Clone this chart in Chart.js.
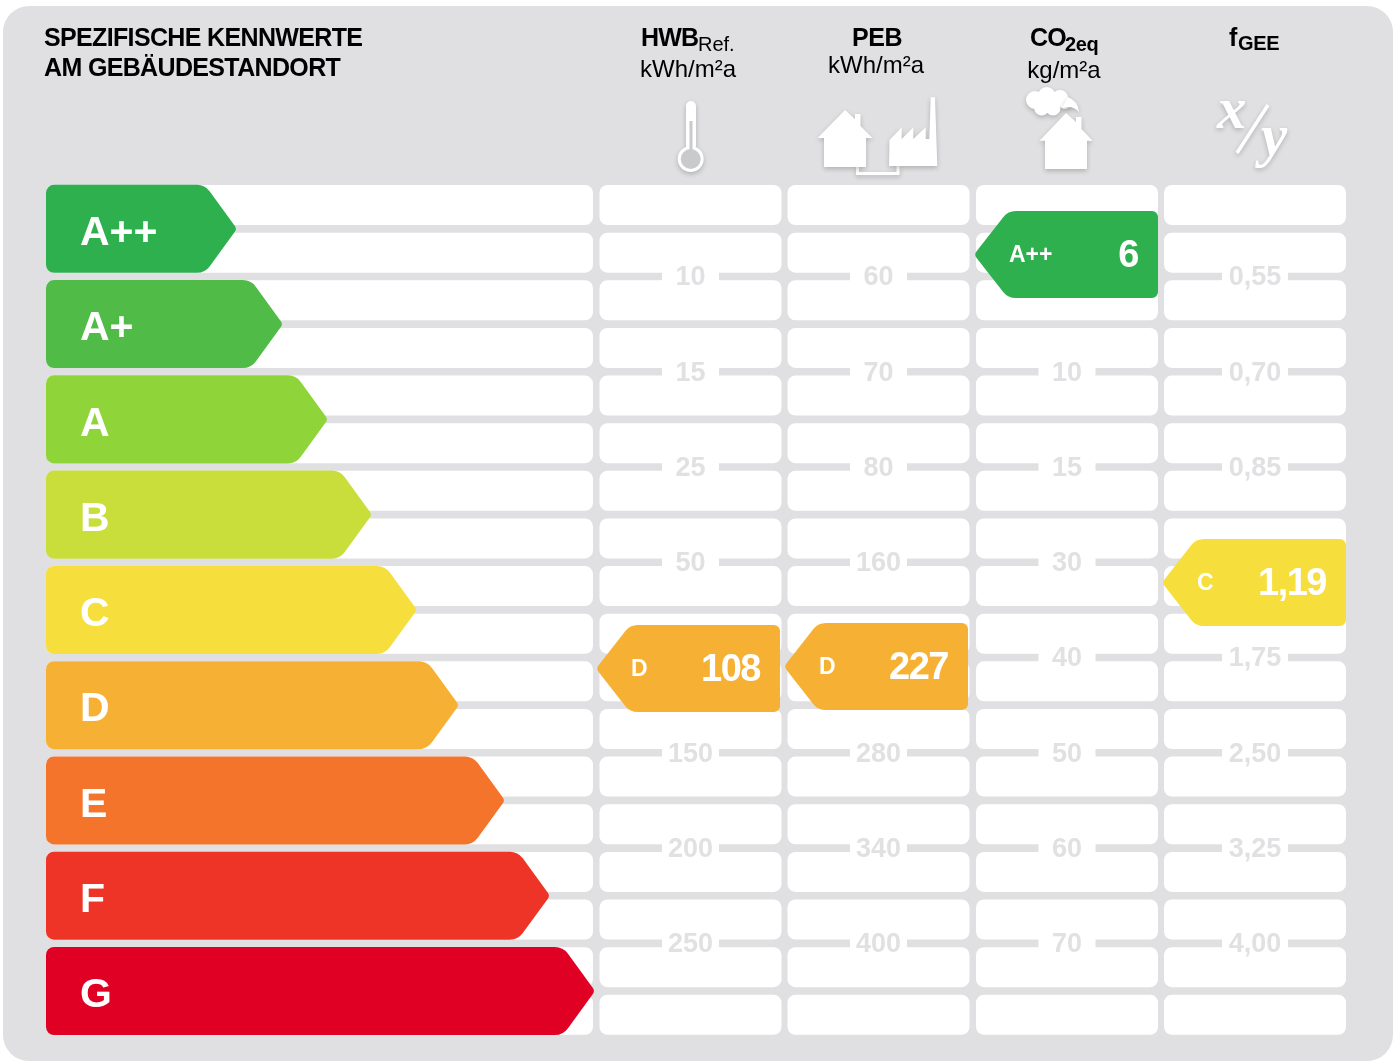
<!DOCTYPE html>
<html>
<head>
<meta charset="utf-8">
<title>Spezifische Kennwerte</title>
<script src="https://cdn.jsdelivr.net/npm/chart.js@4"></script>
<style>
  html, body { margin: 0; padding: 0; background: #fff; }
  canvas { display: block; }
</style>
</head>
<body>
<canvas id="mycanvas" width="1393" height="1061"></canvas>
<script>
// efficiency classes and how long each arrow is on the x scale
var classes = ["A++", "A+", "A", "B", "C", "D", "E", "F", "G"];
var classLengths = [189, 235, 280, 324, 369, 411, 457, 502, 547];
var classColors = ["#2eb04f", "#50bc47", "#8fd53a", "#c9de3a", "#f6de3c", "#f6b134", "#f5742b", "#ee3427", "#e00024"];

// tick labels on the class borders, null where the marker hides the tick
var hwbTicks = ["10", "15", "25", "50", null, "150", "200", "250"];
var pebTicks = ["60", "70", "80", "160", null, "280", "340", "400"];
var co2Ticks = [null, "10", "15", "30", "40", "50", "60", "70"];
var fgeeTicks = ["0,55", "0,70", "0,85", null, "1,75", "2,50", "3,25", "4,00"];

// the value markers: text, class and where it sits on the class band (0 = top of A++, 9 = bottom of G)
var markerValues = ["108", "227", "6", "1,19"];
var markerClasses = ["D", "D", "A++", "C"];
var markerBands = [5.116, 5.095, 0.77, 4.213];

var PANEL = "#e0e0e2";
var FONT = '"Liberation Sans", Arial, sans-serif';

// column layout in x scale units
var colStart = [553.5, 741.5, 930, 1118];
var colWidth = 182;
var tickGap = [57, 57, 57, 66];
var rowLabels = [];
for (var r = 0; r < 18; r++) rowLabels.push("r" + r);

function cellData(from, to) {
    return rowLabels.map(function () { return [from, to]; });
}

function cellSet(from, to) {
    return {
        type: "bar", indexAxis: "y", order: 5, xAxisID: "x", yAxisID: "yRows",
        data: cellData(from, to),
        backgroundColor: "#ffffff", borderRadius: 8, borderSkipped: false, inflateAmount: 0,
        barPercentage: 0.84, categoryPercentage: 1, grouped: false
    };
}

function tickSet(col, labels) {
    var cx = colStart[col] + colWidth / 2;
    return {
        type: "scatter", order: 4, xAxisID: "x", yAxisID: "yBand", pointRadius: 0,
        data: labels.map(function (t, i) { return { x: cx, y: i + 1 }; }),
        tickLabels: labels, gap: tickGap[col]
    };
}

var datasets = [cellSet(0, 547)];
colStart.forEach(function (s) { datasets.push(cellSet(s, s + colWidth)); });
datasets.push(tickSet(0, hwbTicks), tickSet(1, pebTicks), tickSet(2, co2Ticks), tickSet(3, fgeeTicks));
datasets.push({
    type: "bar", indexAxis: "y", order: 3, xAxisID: "x", yAxisID: "yClass", isArrows: true,
    data: classLengths, backgroundColor: classColors,
    barPercentage: 0.924, categoryPercentage: 1, grouped: false
});
datasets.push({
    type: "scatter", order: 2, xAxisID: "x", yAxisID: "yBand", pointRadius: 0, isMarkers: true,
    data: markerBands.map(function (b, i) { return { x: colStart[i] + colWidth / 2, y: b }; })
});

function text(ctx, str, x, y, font, color, align, spacing) {
    ctx.font = font;
    ctx.fillStyle = color;
    ctx.textAlign = align || "left";
    ctx.letterSpacing = (spacing || 0) + "px";
    ctx.fillText(str, x, y);
    ctx.letterSpacing = "0px";
}

function poly(ctx, pts) {
    // pts: [x, y, radius], closed outline with rounded corners
    var n = pts.length;
    var last = pts[n - 1], first = pts[0];
    ctx.beginPath();
    ctx.moveTo((last[0] + first[0]) / 2, (last[1] + first[1]) / 2);
    for (var i = 0; i < n; i++) {
        var p = pts[i], q = pts[(i + 1) % n];
        ctx.arcTo(p[0], p[1], q[0], q[1], p[2]);
    }
    ctx.closePath();
}

function drawArrows(chart, meta) {
    var ctx = chart.ctx;
    meta.data.forEach(function (bar, i) {
        var b = bar.getProps(["x", "y", "base", "height"], true);
        var top = b.y - b.height / 2, bottom = b.y + b.height / 2;
        ctx.fillStyle = classColors[i];
        poly(ctx, [
            [b.base, top, 8], [b.x - 30, top, 16], [b.x + 2, b.y, 5],
            [b.x - 30, bottom, 16], [b.base, bottom, 8]
        ]);
        ctx.fill();
    });
}

function drawMarkers(chart, meta) {
    var ctx = chart.ctx;
    var shift = [-1.5, -1.5, 0, 0];
    meta.data.forEach(function (pt, i) {
        var right = pt.x + colWidth / 2 + shift[i], left = right - colWidth;
        var top = pt.y - 43.5, bottom = pt.y + 43.5;
        var color = classColors[classes.indexOf(markerClasses[i])];
        ctx.fillStyle = color;
        poly(ctx, [
            [right, top, 6], [right, bottom, 6], [left + 32, bottom, 16],
            [left - 2, pt.y, 5], [left + 32, top, 16]
        ]);
        ctx.fill();
        ctx.textBaseline = "middle";
        text(ctx, markerClasses[i], left + 33, pt.y + 1, "bold 23px " + FONT, "#fff");
        text(ctx, markerValues[i], right - 20, pt.y + 2, "bold 38px " + FONT, "#fff", "right", -1.5);
        ctx.textBaseline = "alphabetic";
    });
}

function drawTicks(chart, meta, ds) {
    var ctx = chart.ctx;
    meta.data.forEach(function (pt, i) {
        var label = ds.tickLabels[i];
        if (!label) return;
        ctx.fillStyle = "#fff";
        ctx.fillRect(pt.x - ds.gap / 2, pt.y - 5, ds.gap, 10);
        ctx.textBaseline = "middle";
        text(ctx, label, pt.x, pt.y + 1.5, "bold 27px " + FONT, "#e1e1e3", "center");
        ctx.textBaseline = "alphabetic";
    });
}

function house(ctx, cx, apex, eave, halfRoof, halfBody, bottom) {
    ctx.beginPath();
    ctx.moveTo(cx, apex);
    ctx.lineTo(cx + 10, apex + 9);
    ctx.lineTo(cx + 10, apex + 4);
    ctx.lineTo(cx + 15.5, apex + 4);
    ctx.lineTo(cx + 15.5, apex + 16);
    ctx.lineTo(cx + halfRoof, eave);
    ctx.lineTo(cx + halfBody, eave);
    ctx.lineTo(cx + halfBody, bottom);
    ctx.lineTo(cx - halfBody, bottom);
    ctx.lineTo(cx - halfBody, eave);
    ctx.lineTo(cx - halfRoof, eave);
    ctx.closePath();
    ctx.fill();
}

function drawIcons(ctx) {
    ctx.save();
    ctx.shadowColor = "rgba(0,0,0,0.22)";
    ctx.shadowBlur = 5;
    ctx.shadowOffsetY = 2;
    ctx.fillStyle = "#fff";
    ctx.strokeStyle = "#fff";

    // thermometer
    ctx.beginPath();
    ctx.roundRect(686, 101, 10, 50, 5);
    ctx.arc(690.7, 159, 13, 0, Math.PI * 2);
    ctx.fill();
    ctx.save();
    ctx.shadowColor = "transparent";
    ctx.fillStyle = "#c9cacb";
    ctx.beginPath();
    ctx.arc(690.7, 159, 10, 0, Math.PI * 2);
    ctx.fill();
    ctx.fillRect(689.5, 121, 3, 32);
    ctx.restore();

    // house and factory with the pipe between them
    ctx.lineWidth = 3;
    ctx.beginPath();
    ctx.moveTo(857.5, 166);
    ctx.lineTo(857.5, 173.5);
    ctx.lineTo(898, 173.5);
    ctx.lineTo(898, 166);
    ctx.stroke();
    house(ctx, 845, 110, 138, 27.5, 21, 167);
    ctx.beginPath();
    ctx.moveTo(889, 166);
    ctx.lineTo(889.5, 140);
    ctx.lineTo(901.7, 127.3);
    ctx.lineTo(901.7, 139);
    ctx.lineTo(913.3, 127.3);
    ctx.lineTo(913.3, 139);
    ctx.lineTo(925.7, 127.3);
    ctx.lineTo(925.7, 139);
    ctx.lineTo(929.3, 139);
    ctx.lineTo(930.7, 97.3);
    ctx.lineTo(935, 97.3);
    ctx.lineTo(937.3, 166);
    ctx.closePath();
    ctx.fill();

    // house with smoke
    house(ctx, 1066, 113, 140.7, 26.5, 21, 169);
    ctx.beginPath();
    [[1035, 100, 9], [1046.7, 96, 9], [1060, 98, 8], [1041.7, 108, 7.5], [1053, 108, 7.5], [1065, 103, 6]].forEach(function (c) {
        ctx.moveTo(c[0] + c[2], c[1]);
        ctx.arc(c[0], c[1], c[2], 0, Math.PI * 2);
    });
    ctx.fill();
    ctx.beginPath();
    ctx.moveTo(1068, 97);
    ctx.quadraticCurveTo(1078, 101, 1079, 112);
    ctx.quadraticCurveTo(1073, 105, 1062, 108);
    ctx.closePath();
    ctx.fill();

    // x / y
    text(ctx, "x", 1217, 128, "italic bold 59px \"Liberation Serif\", serif", "#fff");
    text(ctx, "y", 1261, 155, "italic bold 59px \"Liberation Serif\", serif", "#fff");
    ctx.lineWidth = 3.5;
    ctx.beginPath();
    ctx.moveTo(1268, 105);
    ctx.lineTo(1237, 153);
    ctx.stroke();
    ctx.restore();
}

function drawHeaders(ctx) {
    var bold = "bold 25px " + FONT, reg = "24px " + FONT;
    var black = "#000";
    text(ctx, "SPEZIFISCHE KENNWERTE", 44, 46, bold, black, "left", -0.65);
    text(ctx, "AM GEBÄUDESTANDORT", 44, 76, bold, black, "left", -0.65);

    text(ctx, "HWB", 641, 46, bold, black, "left", -0.8);
    text(ctx, "Ref.", 698, 51, "20px " + FONT, black);
    text(ctx, "kWh/m²a", 688, 77, reg, black, "center");

    text(ctx, "PEB", 877, 46, bold, black, "center", -0.5);
    text(ctx, "kWh/m²a", 876, 73, reg, black, "center");

    text(ctx, "CO", 1030, 46, bold, black, "left", -0.8);
    text(ctx, "2eq", 1065, 51, "bold 20px " + FONT, black, "left", -0.4);
    text(ctx, "kg/m²a", 1064, 78, reg, black, "center");

    text(ctx, "f", 1229, 46, bold, black);
    text(ctx, "GEE", 1238, 50, "bold 20px " + FONT, black, "left", -0.3);
}

var certificatePlugin = {
    id: "certificate",
    beforeDraw: function (chart) {
        var ctx = chart.ctx;
        ctx.save();
        ctx.fillStyle = PANEL;
        ctx.beginPath();
        ctx.roundRect(3, 6, 1390, 1055, 26);
        ctx.fill();
        ctx.restore();
    },
    beforeDatasetDraw: function (chart, args) {
        var ds = chart.data.datasets[args.index];
        if (ds.isArrows) { drawArrows(chart, args.meta); return false; }
        if (ds.isMarkers) { drawMarkers(chart, args.meta); return false; }
        if (ds.tickLabels) { drawTicks(chart, args.meta, ds); return false; }
    },
    afterDraw: function (chart) {
        drawHeaders(chart.ctx);
        drawIcons(chart.ctx);
    }
};

var hidden = { display: false };

new Chart(document.getElementById("mycanvas"), {
    type: "bar",
    data: { datasets: datasets },
    plugins: [certificatePlugin],
    options: {
        responsive: false,
        animation: false,
        devicePixelRatio: 1,
        layout: { padding: { left: 46, right: 47, top: 181.2, bottom: 22.4 } },
        plugins: { legend: hidden, tooltip: { enabled: false }, title: hidden },
        scales: {
            x: { type: "linear", axis: "x", min: 0, max: 1300, offset: false, display: false },
            yRows: { type: "category", axis: "y", labels: rowLabels, offset: true, display: false },
            yBand: { type: "linear", axis: "y", min: 0, max: 9, reverse: true, display: false },
            yClass: {
                type: "category", axis: "y", labels: classes, offset: true, position: "left",
                grid: { display: false, drawTicks: false },
                border: { display: false },
                // the labels sit inside the arrows, so the axis must not take any room
                afterFit: function (scale) {
                    scale.width = 0;
                    scale.paddingTop = 0;
                    scale.paddingBottom = 0;
                    scale.paddingLeft = 0;
                    scale.paddingRight = 0;
                },
                ticks: {
                    z: 1, mirror: true, padding: 34, labelOffset: 5, color: "#fff",
                    font: { family: "Liberation Sans", size: 41, weight: "bold" },
                    autoSkip: false
                }
            }
        }
    }
});
</script>
</body>
</html>
